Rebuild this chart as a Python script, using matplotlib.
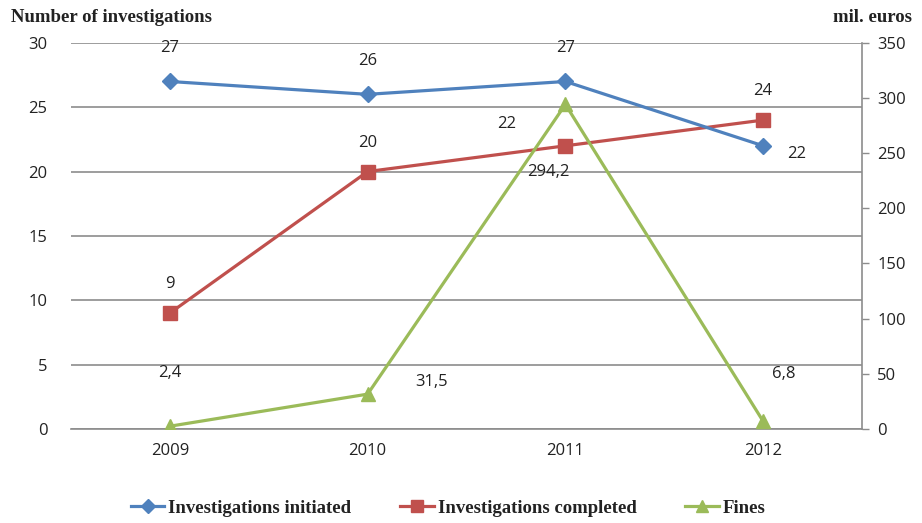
import matplotlib
matplotlib.use("Agg")
import matplotlib.pyplot as plt
from matplotlib.lines import Line2D

years = ["2009", "2010", "2011", "2012"]
initiated = [27, 26, 27, 22]
completed = [9, 20, 22, 24]
fines = [2.4, 31.5, 294.2, 6.8]
fines_labels = ["2,4", "31,5", "294,2", "6,8"]

blue = "#4F81BD"
red = "#C0504D"
green = "#9BBB59"
grid = "#8C8C8C"
txt = "#222222"
tickfont = "Open Sans"
serif = "Liberation Serif"

fig = plt.figure(figsize=(9.22, 5.23), dpi=100)
ax = fig.add_axes([0.077, 0.180, 0.858, 0.738])
ax2 = ax.twinx()

x = list(range(len(years)))

ax.set_xlim(-0.5, 3.5)
ax.set_ylim(0, 30)
ax2.set_ylim(0, 350)
ax.set_yticks(range(0, 31, 5))
ax2.set_yticks(range(0, 351, 50))
ax.set_xticks(x)
ax.set_xticklabels(years)

ax.yaxis.grid(True, color=grid, linewidth=1.2)
ax.set_axisbelow(True)
for s in ["top", "left", "right"]:
    ax.spines[s].set_visible(False)
ax.spines["bottom"].set_color(grid)
ax.spines["bottom"].set_linewidth(1.2)
for s in ["top", "left", "bottom"]:
    ax2.spines[s].set_visible(False)
ax2.spines["right"].set_color(grid)
ax2.spines["right"].set_linewidth(1.2)

ax.tick_params(axis="y", length=0, pad=17, labelsize=12, labelcolor=txt)
ax.tick_params(axis="x", length=0, pad=10, labelsize=12, labelcolor=txt)
ax2.tick_params(axis="y", length=5, color=grid, width=1, pad=6, labelsize=12, labelcolor=txt)
for lab in ax.get_xticklabels() + ax.get_yticklabels() + ax2.get_yticklabels():
    lab.set_fontfamily(tickfont)

ax.plot(x, initiated, color=blue, linewidth=2.3, marker="D", markersize=8, zorder=5)
ax.plot(x, completed, color=red, linewidth=2.3, marker="s", markersize=9.5, zorder=4)
ax2.plot(x, fines, color=green, linewidth=2.3, marker="^", markersize=10, zorder=3)

fs = 12
# initiated labels
for i, v in enumerate(initiated):
    if i == 3:
        ax.annotate(str(v), (i, v), xytext=(17, -6), textcoords="offset points",
                    ha="left", va="center", fontsize=fs, family=tickfont, color=txt)
    else:
        ax.annotate(str(v), (i, v), xytext=(0, 18), textcoords="offset points",
                    ha="center", va="bottom", fontsize=fs, family=tickfont, color=txt)
# completed labels
for i, v in enumerate(completed):
    if i == 2:
        ax.annotate(str(v), (i, v), xytext=(-42, 16), textcoords="offset points",
                    ha="center", va="center", fontsize=fs, family=tickfont, color=txt)
    else:
        ax.annotate(str(v), (i, v), xytext=(0, 15), textcoords="offset points",
                    ha="center", va="bottom", fontsize=fs, family=tickfont, color=txt)
# fines labels
for i, (v, l) in enumerate(zip(fines, fines_labels)):
    if i == 0:
        ax2.annotate(l, (i, v), xytext=(0, 38), textcoords="offset points",
                     ha="center", va="center", fontsize=fs, family=tickfont, color=txt)
    elif i == 1:
        ax2.annotate(l, (i, v), xytext=(34, 9), textcoords="offset points",
                     ha="left", va="center", fontsize=fs, family=tickfont, color=txt)
    elif i == 2:
        ax2.annotate(l, (i, v), xytext=(-12, -49), textcoords="offset points",
                     ha="center", va="center", fontsize=fs, family=tickfont, color=txt)
    else:
        ax2.annotate(l, (i, v), xytext=(6, 34), textcoords="offset points",
                     ha="left", va="center", fontsize=fs, family=tickfont, color=txt)

fig.text(0.012, 0.966, "Number of investigations", ha="left", va="center",
         fontsize=13.5, family=serif, fontweight="bold", color=txt)
fig.text(0.989, 0.966, "mil. euros", ha="right", va="center",
         fontsize=13.5, family=serif, fontweight="bold", color=txt)

handles = [
    Line2D([], [], color=blue, linewidth=2.3, marker="D", markersize=7),
    Line2D([], [], color=red, linewidth=2.3, marker="s", markersize=8),
    Line2D([], [], color=green, linewidth=2.3, marker="^", markersize=8),
]
labels = ["Investigations initiated", "Investigations completed", "Fines"]
leg = fig.legend(handles, labels, loc="center", bbox_to_anchor=(0.486, 0.028), ncol=3,
                 frameon=False, handlelength=1.8, columnspacing=2.6, handletextpad=0.2,
                 prop={"family": serif, "weight": "bold", "size": 13.5})
for t in leg.get_texts():
    t.set_color(txt)

fig.savefig("out.png", dpi=100, facecolor="white")
